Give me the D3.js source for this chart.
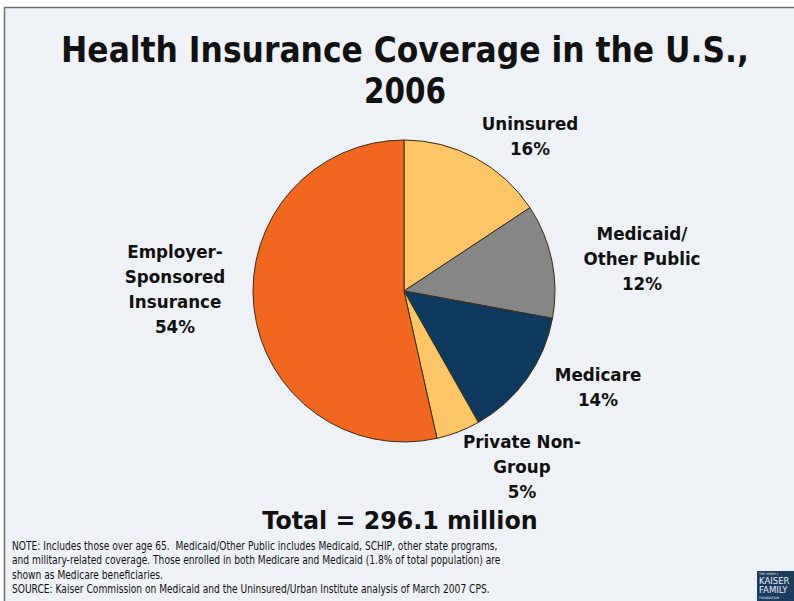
<!DOCTYPE html>
<html>
<head>
<meta charset="utf-8">
<script src="https://cdn.jsdelivr.net/npm/d3@7"></script>
<style>
  body { margin: 0; background: #fff; }
  text { font-family: "DejaVu Sans", Verdana, sans-serif; white-space: pre; }
</style>
</head>
<body>
<div id="container"></div>
<script>
/* DATA */
const categories = ["Uninsured", "Medicaid/Other Public", "Medicare", "Private Non-Group", "Employer-Sponsored Insurance"];
const shares = [15.7, 12.2, 13.9, 4.7, 53.5];
const shareLabels = ["16%", "12%", "14%", "5%", "54%"];
const labelLines = [
  ["Uninsured"],
  ["Medicaid/", "Other Public"],
  ["Medicare"],
  ["Private Non-", "Group"],
  ["Employer-", "Sponsored", "Insurance"]
];
const titleLines = ["Health Insurance Coverage in the U.S.,", "2006"];
const totalText = "Total = 296.1 million";
const noteLines = [
  "NOTE: Includes those over age 65.  Medicaid/Other Public includes Medicaid, SCHIP, other state programs,",
  "and military-related coverage. Those enrolled in both Medicare and Medicaid (1.8% of total population) are",
  "shown as Medicare beneficiaries.",
  "SOURCE: Kaiser Commission on Medicaid and the Uninsured/Urban Institute analysis of March 2007 CPS."
];

/* CONSTANTS */
const width = 794, height = 601;
const cx = 404, cy = 291, radius = 151;
const colors = ["#fdc566", "#868686", "#0d3a5e", "#fdc566", "#f2671f"];
// label block centres (x) and first baseline (y)
const labelPos = [
  { x: 530, y: 130 },
  { x: 642, y: 240 },
  { x: 598, y: 381 },
  { x: 522, y: 448 },
  { x: 175, y: 258 }
];
const lineH = 25;

const svg = d3.select("#container")
  .append("svg")
  .attr("width", width)
  .attr("height", height);

// slide background + frame
svg.append("rect")
  .attr("x", 4.5).attr("y", 7.5)
  .attr("width", width).attr("height", height)
  .attr("fill", "#eef1f5")
  .attr("stroke", "#6e6e6e")
  .attr("stroke-width", 1.5);

// narrow DejaVu toward Tahoma-like widths (horizontal scale about the anchor x)
function squeeze(sel, factor) {
  sel.attr("transform", function() {
    const x = +d3.select(this).attr("x");
    return `translate(${x},0) scale(${factor},1) translate(${-x},0)`;
  });
}

// title
const title = svg.append("g");
title.selectAll("text")
  .data(titleLines)
  .join("text")
  .attr("x", 405)
  .attr("y", (d, i) => 62 + i * 41)
  .attr("text-anchor", "middle")
  .attr("font-size", 36)
  .attr("font-weight", "bold")
  .attr("fill", "#111")
  .text(d => d);
title.selectAll("text").each(function(d, i) {
  const w = this.getComputedTextLength();
  squeeze(d3.select(this), i === 0 ? 688 / w : 0.82);
});

// pie
const pie = d3.pie().sort(null).value(d => d).startAngle(0).endAngle(2 * Math.PI);
const arc = d3.arc().innerRadius(0).outerRadius(radius);

svg.append("g")
  .attr("transform", `translate(${cx},${cy})`)
  .selectAll("path")
  .data(pie(shares))
  .join("path")
  .attr("d", arc)
  .attr("fill", (d, i) => colors[i])
  .attr("stroke", "#3b2c16")
  .attr("stroke-width", 1);

// slice labels
const labels = svg.append("g");
categories.forEach((c, i) => {
  const lines = labelLines[i].concat([shareLabels[i]]);
  labels.append("g")
    .selectAll("text")
    .data(lines)
    .join("text")
    .attr("x", labelPos[i].x)
    .attr("y", (d, j) => labelPos[i].y + j * lineH)
    .attr("text-anchor", "middle")
    .attr("font-size", 18)
    .attr("font-weight", "bold")
    .attr("fill", "#111")
    .text(d => d);
});
squeeze(labels.selectAll("text"), 0.93);

// total
svg.append("text")
  .attr("x", 400)
  .attr("y", 529)
  .attr("text-anchor", "middle")
  .attr("font-size", 24)
  .attr("font-weight", "bold")
  .attr("fill", "#111")
  .text(totalText)
  .call(sel => squeeze(sel, 0.99));

// note + source
const notes = svg.append("g");
notes.selectAll("text")
  .data(noteLines)
  .join("text")
  .attr("x", 12)
  .attr("y", (d, i) => 550 + i * 14.3)
  .attr("font-size", 12)
  .attr("fill", "#111")
  .text(d => d);
squeeze(notes.selectAll("text"), 0.76);

// KFF logo
const logo = svg.append("g").attr("transform", "translate(757,571)");
logo.append("rect").attr("width", 40).attr("height", 32).attr("fill", "#1b3c5e");
logo.selectAll("text")
  .data([["THE HENRY J.", 4, 3], ["KAISER", 13, 8.5], ["FAMILY", 22, 8.5], ["FOUNDATION", 28, 3]])
  .join("text")
  .attr("x", 2)
  .attr("y", d => d[1])
  .attr("font-family", "'Liberation Serif', serif")
  .attr("font-size", d => d[2])
  .attr("fill", "#e8eef4")
  .text(d => d[0]);
</script>
</body>
</html>
